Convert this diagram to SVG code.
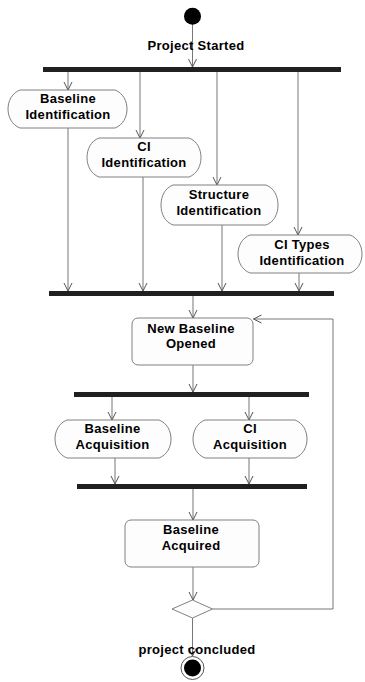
<svg xmlns="http://www.w3.org/2000/svg" width="365" height="682" viewBox="0 0 365 682">
<style>
text{font-family:"Liberation Sans",Arial,sans-serif;font-size:13px;font-weight:bold;fill:#000;text-anchor:middle;letter-spacing:0.3px}
.act{fill:#fdfdfd;stroke:#808080;stroke-width:1}
.bar{fill:#202020}
.c{fill:none;stroke:#777;stroke-width:1}
</style>
<defs>
<marker id="ah" markerWidth="12" markerHeight="12" refX="0" refY="0" viewBox="-10 -6 12 12" orient="auto" markerUnits="userSpaceOnUse">
<path d="M-8,-4 L0,0 L-8,4" fill="none" stroke="#555" stroke-width="1"/>
</marker>
</defs>
<rect width="365" height="682" fill="#fff"/>
<g id="connectors">
<path class="c" d="M192.5,24 V67" marker-end="url(#ah)"/>
<path class="c" d="M68,72 V90" marker-end="url(#ah)"/>
<path class="c" d="M140,72 V138" marker-end="url(#ah)"/>
<path class="c" d="M217,72 V185" marker-end="url(#ah)"/>
<path class="c" d="M298,72 V235" marker-end="url(#ah)"/>
<path class="c" d="M68,128 V291" marker-end="url(#ah)"/>
<path class="c" d="M143,177 V291" marker-end="url(#ah)"/>
<path class="c" d="M222,225 V291" marker-end="url(#ah)"/>
<path class="c" d="M299,273 V291" marker-end="url(#ah)"/>
<path class="c" d="M193,296 V318" marker-end="url(#ah)"/>
<path class="c" d="M193,365 V392" marker-end="url(#ah)"/>
<path class="c" d="M112,397 V420" marker-end="url(#ah)"/>
<path class="c" d="M249,397 V420" marker-end="url(#ah)"/>
<path class="c" d="M115,458 V484" marker-end="url(#ah)"/>
<path class="c" d="M249,458 V484" marker-end="url(#ah)"/>
<path class="c" d="M193,489 V520" marker-end="url(#ah)"/>
<path class="c" d="M193,567 V600" marker-end="url(#ah)"/>
<path class="c" d="M192.5,618 V656" marker-end="url(#ah)"/>
<path class="c" d="M212.5,609 H333 V319 H253.5" marker-end="url(#ah)"/>
</g>
<g id="start"><circle cx="192.5" cy="16.3" r="8.5" fill="#000"/></g>
<g id="label-start"><text x="196" y="50">Project Started</text></g>
<g id="fork1"><rect class="bar" x="43" y="67" width="298" height="5"/></g>
<g id="baseline-identification">
<path class="act" d="M20,90 H115 C123,93 127,101 127,109 C127,117 123,125 115,128 H20 C12,125 8,117 8,109 C8,101 12,93 20,90 Z"/>
<text x="68" y="103">Baseline</text><text x="68" y="119">Identification</text>
</g>
<g id="ci-identification">
<path class="act" d="M99,138 H189 C197,141 201,149 201,157.5 C201,166 197,174 189,177 H99 C91,174 87,166 87,157.5 C87,149 91,141 99,138 Z"/>
<text x="144" y="151">CI</text><text x="144" y="167">Identification</text>
</g>
<g id="structure-identification">
<path class="act" d="M173,185 H266 C274,188 278,196 278,205 C278,214 274,222 266,225 H173 C165,222 161,214 161,205 C161,196 165,188 173,185 Z"/>
<text x="219" y="199">Structure</text><text x="219" y="215">Identification</text>
</g>
<g id="ci-types-identification">
<path class="act" d="M250,235 H350 C358,238 362,246 362,254 C362,262 358,270 350,273 H250 C242,270 238,262 238,254 C238,246 242,238 250,235 Z"/>
<text x="302" y="248.5">CI Types</text><text x="302" y="264.5">Identification</text>
</g>
<g id="join1"><rect class="bar" x="49" y="291" width="285" height="5"/></g>
<g id="new-baseline-opened">
<rect class="act" x="132" y="318" width="121" height="47" rx="6"/>
<text x="191" y="333">New Baseline</text><text x="191" y="348">Opened</text>
</g>
<g id="fork2"><rect class="bar" x="74" y="392" width="235" height="5"/></g>
<g id="baseline-acquisition">
<path class="act" d="M67,420 H159 C167,423 171,431 171,439 C171,447 167,455 159,458 H67 C59,455 55,447 55,439 C55,431 59,423 67,420 Z"/>
<text x="112.5" y="433">Baseline</text><text x="112.5" y="449">Acquisition</text>
</g>
<g id="ci-acquisition">
<path class="act" d="M205,420 H295 C303,423 307,431 307,439 C307,447 303,455 295,458 H205 C197,455 193,447 193,439 C193,431 197,423 205,420 Z"/>
<text x="250" y="433">CI</text><text x="250" y="449">Acquisition</text>
</g>
<g id="join2"><rect class="bar" x="77" y="484" width="230" height="5"/></g>
<g id="baseline-acquired">
<rect class="act" x="125" y="520" width="134" height="47" rx="6"/>
<text x="191" y="534">Baseline</text><text x="191" y="550">Acquired</text>
</g>
<g id="decision"><path class="act" d="M192.5,600 L212.5,609 L192.5,618 L172,609 Z"/></g>
<g id="label-end"><text x="197" y="654">project concluded</text></g>
<g id="end">
<circle cx="192.5" cy="668" r="11.5" fill="#fff" stroke="#555" stroke-width="1"/>
<circle cx="192.5" cy="668" r="8.5" fill="#000"/>
</g>
</svg>
